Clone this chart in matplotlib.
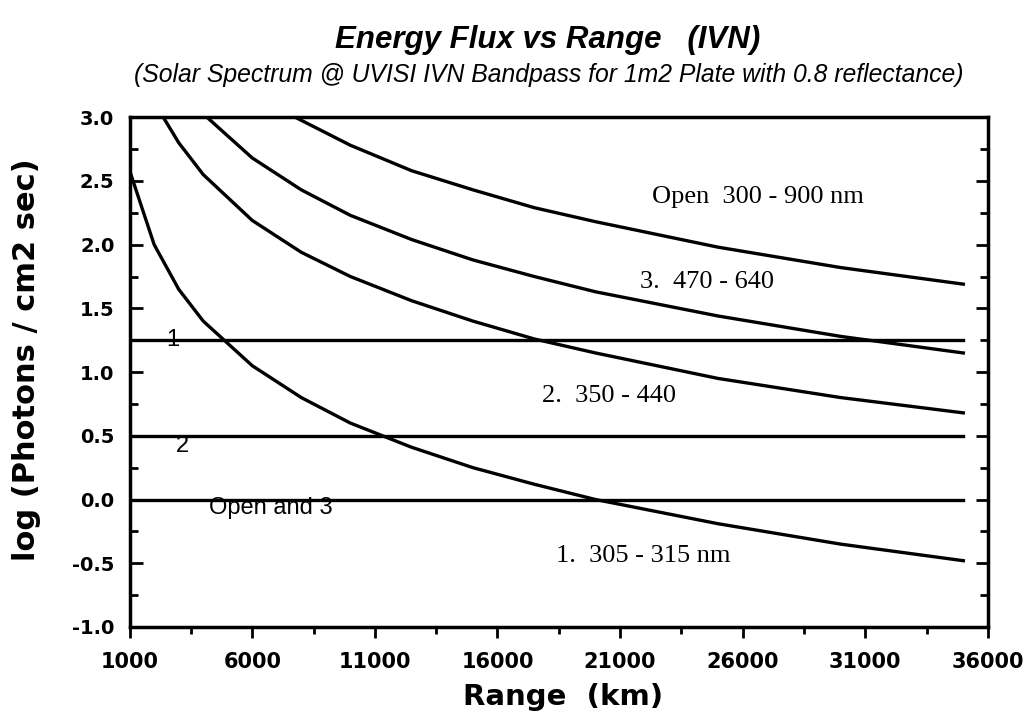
import matplotlib.pyplot as plt
from matplotlib.ticker import MultipleLocator, FixedLocator

# values (range in km, log photons / cm2 sec)
r_band1 = [1000, 2000, 3000, 4000, 6000, 8000, 10000, 12500, 15000, 17500, 20000, 25000, 30000, 35000]
y_band1 = [2.58, 2.00, 1.65, 1.40, 1.05, 0.80, 0.60, 0.41, 0.25, 0.12, 0.00, -0.19, -0.35, -0.48]

r_band2 = [2370, 3000, 4000, 6000, 8000, 10000, 12500, 15000, 17500, 20000, 25000, 30000, 35000]
y_band2 = [3.00, 2.80, 2.55, 2.19, 1.94, 1.75, 1.56, 1.40, 1.26, 1.15, 0.95, 0.80, 0.68]

r_band3 = [4150, 6000, 8000, 10000, 12500, 15000, 17500, 20000, 25000, 30000, 35000]
y_band3 = [3.00, 2.68, 2.43, 2.23, 2.04, 1.88, 1.75, 1.63, 1.44, 1.28, 1.15]

r_open = [7750, 10000, 12500, 15000, 17500, 20000, 25000, 30000, 35000]
y_open = [3.00, 2.78, 2.58, 2.43, 2.29, 2.18, 1.98, 1.82, 1.69]

# threshold levels
levels = [1.25, 0.5, 0.0]
level_names = ["1", "2", "Open and 3"]
level_r = [2500, 2900, 4250]
level_dy = [0.0, -0.08, -0.07]

curve_names = ["1.  305 - 315 nm", "2.  350 - 440", "3.  470 - 640", "Open  300 - 900 nm"]
curve_pos = [(18400, -0.44), (17800, 0.81), (21800, 1.71), (22300, 2.37)]

x_ticks = [1000, 6000, 11000, 16000, 21000, 26000, 31000, 36000]
x_minor = [3500, 8500, 13500, 18500, 23500, 28500, 33500]

fig = plt.figure(figsize=(10.29, 7.19), dpi=100)
ax = fig.add_axes([0.126, 0.128, 0.834, 0.709])

lw = 2.4
for r, y in [(r_band1, y_band1), (r_band2, y_band2), (r_band3, y_band3), (r_open, y_open)]:
    ax.plot(r, y, color="black", lw=lw)
for lv in levels:
    ax.plot([1000, 35000], [lv, lv], color="black", lw=lw)

for name, r, lv, dy in zip(level_names, level_r, levels, level_dy):
    ax.text(r, lv + dy, name, fontsize=17, family="Liberation Sans",
            ha="left", va="center")

for name, (r, y) in zip(curve_names, curve_pos):
    ax.text(r, y, name, fontsize=19, family="Liberation Serif",
            ha="left", va="center")

ax.set_xlim(1000, 36000)
ax.set_ylim(-1.0, 3.0)
ax.xaxis.set_major_locator(FixedLocator(x_ticks))
ax.xaxis.set_minor_locator(FixedLocator(x_minor))
ax.yaxis.set_major_locator(MultipleLocator(0.5))
ax.yaxis.set_minor_locator(MultipleLocator(0.25))
ax.yaxis.set_major_formatter(plt.FormatStrFormatter("%.1f"))

ax.tick_params(axis="x", which="major", direction="out", length=8, width=2, pad=10)
ax.tick_params(axis="x", which="minor", direction="out", length=5, width=2)
ax.tick_params(axis="y", which="major", direction="in", length=9, width=2,
               right=True, pad=11)
ax.tick_params(axis="y", which="minor", direction="in", length=6, width=2, right=True)
for lab in ax.get_xticklabels():
    lab.set_fontsize(15)
    lab.set_fontweight("bold")
    lab.set_family("DejaVu Sans")
for lab in ax.get_yticklabels():
    lab.set_fontsize(14)
    lab.set_fontweight("semibold")
    lab.set_family("DejaVu Sans")
for sp in ax.spines.values():
    sp.set_linewidth(2.5)

ax.set_xlabel("Range  (km)", fontsize=21, fontweight="bold", family="DejaVu Sans")
ax.xaxis.set_label_coords(0.505, -0.11)
ax.set_ylabel("log (Photons / cm2 sec)", fontsize=22, fontweight="bold",
              family="DejaVu Sans")
ax.yaxis.set_label_coords(-0.103, 0.525)

fig.text(0.532, 0.945, "Energy Flux vs Range   (IVN)", fontsize=22.5,
         fontweight="bold", style="italic", family="Liberation Sans",
         ha="center", va="center")
fig.text(0.533, 0.895, "(Solar Spectrum @ UVISI IVN Bandpass for 1m2 Plate with 0.8 reflectance)",
         fontsize=17.8, style="italic", family="Liberation Sans",
         ha="center", va="center")

fig.savefig("out.png", dpi=100)
